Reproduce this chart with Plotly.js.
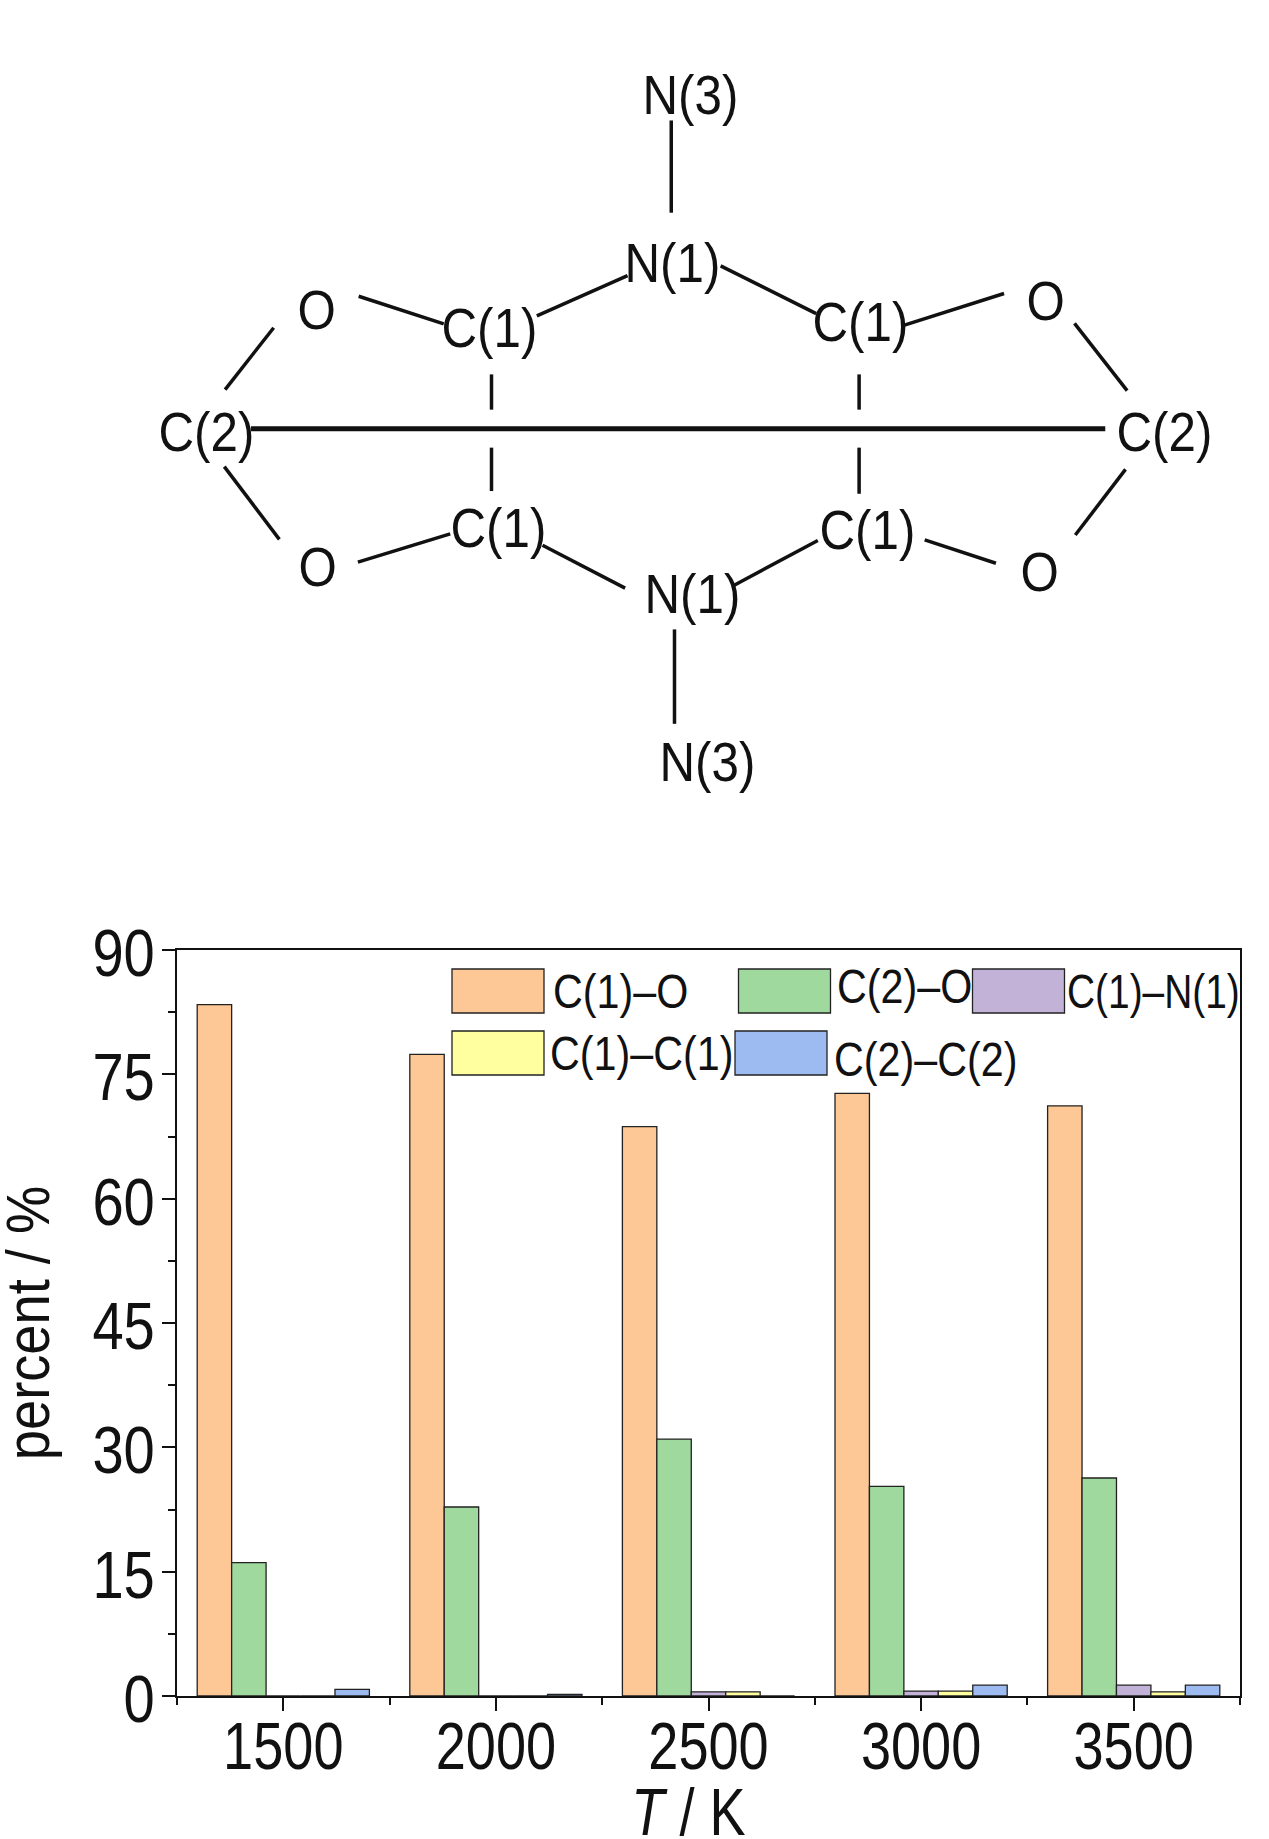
<!DOCTYPE html>
<html><head><meta charset="utf-8">
<script src="https://cdn.plot.ly/plotly-3.0.1.min.js"></script>
<style>html,body{margin:0;padding:0;background:#fff}</style></head>
<body><div id="chart" style="width:1269px;height:1839px"></div>
<script>
const temperatures=[1500,2000,2500,3000,3500];
const c1O=[83.4,77.4,68.7,72.7,71.2];
const c2O=[16.1,22.8,31.0,25.3,26.3];
const c1N1=[0,0,0.5,0.6,1.3];
const c1C1=[0,0,0.5,0.6,0.5];
const c2C2=[0.8,0.2,0,1.3,1.3];
const names=['C(1)–O','C(2)–O','C(1)–N(1)','C(1)–C(1)','C(2)–C(2)'];
const colors=['#FDC896','#9FD99E','#C2B2D8','#FFFFA0','#9DBBF0'];
const series=[c1O,c2O,c1N1,c1C1,c2C2];

const FONT='"Liberation Sans",Arial,sans-serif';
const W=1269,H=1839,L=177,R=29,T=950,B=143;
const px=x=>(x-L)/(W-L-R), py=y=>1-(y-T)/(H-T-B);
const zx=x=>x/1.235, zy=y=>y/1.843;

const traces=series.map((v,i)=>({type:'bar',x:temperatures,y:v,name:names[i],
  marker:{color:colors[i],line:{color:'#222',width:1.3}},showlegend:false,hoverinfo:'x+y+name'}));

const shapes=[],annotations=[];
function seg(a,b,c,d,w){shapes.push({type:'line',xref:'paper',yref:'paper',x0:px(zx(a)),y0:py(zy(b)),x1:px(zx(c)),y1:py(zy(d)),line:{color:'#111',width:w||3.5}});}
[[829,222,829,392],[775,508,663,582],[890,490,1008,578],[443,546,548,597],[1115,600,1240,541],
 [338,604,278,718],[1327,596,1392,720],[607,690,607,755],[607,825,607,905],[1061,690,1061,755],
 [1061,825,1061,910],[277,860,345,994],[1390,865,1328,986],[442,1036,556,984],[670,1005,772,1084],
 [905,1080,1010,996],[1142,995,1230,1038],[833,1160,833,1334]].forEach(s=>seg(...s));
seg(310,790,1365,790,5);

function label(t,x,y,size,anchor){annotations.push({text:t,xref:'paper',yref:'paper',x:px(x),y:py(y),showarrow:false,
  xanchor:anchor||'center',yanchor:'middle',font:{family:FONT,size:size,color:'#111'},bgcolor:'rgba(0,0,0,0)',borderpad:0});}
[['N(3)',690,94],['N(1)',672,262],['C(1)',489,327],['C(1)',860,322],['O',317,310],['O',1046,300],
 ['C(2)',206,431],['C(2)',1164,431],['C(1)',498,527],['C(1)',867,529],['O',318,566],['O',1040,571],
 ['N(1)',692,593],['N(3)',707,761]].forEach(a=>label(a[0],a[1],a[2],56));

// legend
[[0,452,969,552,991],[1,738.5,969,836,986],[2,972.5,969,1066,991],[3,452,1031,549,1053],[4,735,1031,833,1059]].forEach(l=>{
  const [i,x,y,tx,ty]=l;
  shapes.push({type:'rect',xref:'paper',yref:'paper',x0:px(x),x1:px(x+92),y0:py(y),y1:py(y+44),fillcolor:colors[i],line:{color:'#222',width:1.3}});
  label(names[i],tx,ty,48,'left');
});

const layout={width:W,height:H,margin:{l:L,r:R,t:T,b:B,pad:0},paper_bgcolor:'#fff',plot_bgcolor:'#fff',
  barmode:'group',bargap:0.19,bargroupgap:0,showlegend:false,font:{family:FONT,color:'#111'},
  xaxis:{range:[1250,3750],tickmode:'array',tickvals:temperatures,ticktext:temperatures.map(String),ticks:'outside',ticklen:13,tickwidth:2,
    tickcolor:'#111',showgrid:false,zeroline:false,showline:true,linecolor:'#111',linewidth:2,mirror:true,ticklabelstandoff:-21,
    tickfont:{size:66,family:FONT,color:'#111'},
    minor:{tickmode:'array',tickvals:[1250,1750,2250,2750,3250,3750],ticks:'outside',ticklen:7,tickwidth:2,tickcolor:'#111',showgrid:false},
    title:{text:'<i>T</i> / K',font:{size:66,family:FONT,color:'#111'},standoff:8}},
  yaxis:{range:[0,90],tick0:0,dtick:15,ticks:'outside',ticklen:13,tickwidth:2,tickcolor:'#111',showgrid:false,zeroline:false,
    showline:true,linecolor:'#111',linewidth:2,mirror:true,ticklabelstandoff:-6,tickfont:{size:66,family:FONT,color:'#111'},
    minor:{dtick:7.5,ticks:'outside',ticklen:7,tickwidth:2,tickcolor:'#111',showgrid:false},
    title:{text:'percent / %',font:{size:62,family:FONT,color:'#111'},standoff:6}},
  shapes,annotations};

// The reference's type is a vertically stretched sans: narrow each text horizontally about an anchor.
function condense(el,sx,anchor,dx,dy){
  const b=el.getBBox();const cx=b.x+b.width*anchor;
  const old=el.getAttribute('transform')||'';
  el.setAttribute('transform',`translate(${dx||0},${dy||0}) ${old} translate(${cx},0) scale(${sx},1) translate(${-cx},0)`);
}
Plotly.newPlot('chart',traces,layout,{displayModeBar:false,staticPlot:true}).then(gd=>{
  gd.querySelectorAll('.xtick text').forEach(t=>condense(t,0.82,0.5));
  gd.querySelectorAll('.ytick text').forEach(t=>condense(t,0.85,1,0,3));
  gd.querySelectorAll('.annotation-text').forEach(t=>{
    const isLegend=names.includes(t.textContent);
    const sx=t.textContent==='C(1)–N(1)'?0.81:(isLegend?0.86:0.88);
    condense(t,sx,isLegend?0:0.5);
  });
  const xt=gd.querySelector('.xtitle'), yt=gd.querySelector('.ytitle');
  if(xt)condense(xt,0.82,0.5,-20,10);
  if(yt)condense(yt,0.875,0.5,-7,0);
});
</script></body></html>
